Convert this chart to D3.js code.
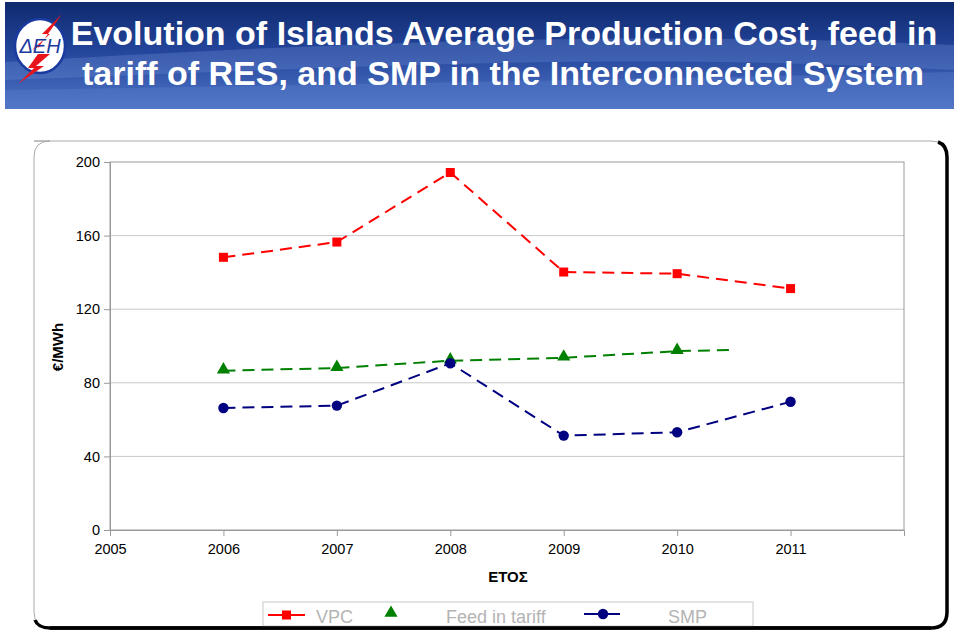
<!DOCTYPE html>
<html><head><meta charset="utf-8">
<script src="https://cdn.jsdelivr.net/npm/d3@7"></script>
<style>body{margin:0;background:#fff;}svg{display:block;}</style>
</head><body>
<script>
const years = [2006, 2007, 2008, 2009, 2010, 2011];
const vpc = [148.2, 156.5, 194.3, 140.2, 139.3, 131.2];
const feedYears = [2006, 2007, 2008, 2009, 2010];
const feed = [86.6, 88.0, 92.0, 93.6, 97.2];
const feedTail = {year: 2010.5, value: 97.9};
const smpVals = [66.3, 67.6, 90.6, 51.3, 53.1, 69.7];
const xTicks = [2005, 2006, 2007, 2008, 2009, 2010, 2011];
const yTicks = [0, 40, 80, 120, 160, 200];
const titleLines = ["Evolution of Islands Average Production Cost, feed in", "tariff of RES, and SMP in the Interconnected System"];
const legendItems = ["VPC", "Feed in tariff", "SMP"];

const W = 959, H = 634;
const svg = d3.select("body").append("svg").attr("width", W).attr("height", H);
const defs = svg.append("defs");
const bg = defs.append("linearGradient").attr("id","bann").attr("x1",0).attr("y1",0).attr("x2",0).attr("y2",1);
bg.append("stop").attr("offset","0").attr("stop-color","#0f2a6e");
bg.append("stop").attr("offset","0.45").attr("stop-color","#23449a");
bg.append("stop").attr("offset","1").attr("stop-color","#4e74c6");

// Banner
svg.append("rect").attr("x",5).attr("y",2).attr("width",949).attr("height",107).attr("fill","url(#bann)");
svg.append("path").attr("d","M5,62 C250,48 600,28 954,45 L954,70 C600,50 300,70 5,80 Z").attr("fill","#6a8ad2").attr("opacity",0.35);
svg.append("path").attr("d","M5,90 C300,85 600,80 954,72 L954,109 L5,109 Z").attr("fill","#5a7ecb").attr("opacity",0.4);

// Logo
const logo = svg.append("g").attr("transform","translate(40,46)");
logo.append("ellipse").attr("rx",25).attr("ry",27).attr("fill","#fff").attr("stroke","#1a3aa0").attr("stroke-width",2.5);
logo.append("path").attr("d","M22,-32 L2,-12 L10,-12 L-8,4 L4,-2 L-2,2 Z").attr("fill","#e8141c");
logo.append("path").attr("d","M-2,8 L10,8 L-4,20 L4,20 L-22,38 L-6,22 L-12,22 Z").attr("fill","#e8141c");
logo.append("text").attr("x",0).attr("y",7).attr("text-anchor","middle")
  .attr("font-family","Liberation Sans, Arial, sans-serif").attr("font-style","italic").attr("font-size",20)
  .attr("fill","#1a3aa0").text("ΔΕΗ");

svg.selectAll("text.title").data(titleLines).enter().append("text")
  .attr("x", (d,i)=> i===0 ? 504 : 503).attr("y",(d,i)=>45+i*40).attr("text-anchor","middle")
  .attr("font-family","Liberation Sans, Arial, sans-serif").attr("font-weight","bold").attr("font-size",34)
  .attr("fill","#fff").text(d=>d);

// Chart frame
svg.append("path").attr("d","M34,141 H931 Q947,141 947,157 V612 Q947,628 931,628 H50 Q34,628 34,612 V157 Q34,141 50,141 Z")
  .attr("fill","#fff").attr("stroke","#aaa").attr("stroke-width",1);
svg.append("path").attr("d","M938,142 Q947,145 947,157 V612 Q947,628 931,628 H50 Q38,628 35,620")
  .attr("fill","none").attr("stroke","#000").attr("stroke-width",3.5);

const x = d3.scaleLinear().domain([2005, 2012]).range([110, 904]);
const y = d3.scaleLinear().domain([0, 200]).range([530, 162]);

// gridlines
svg.append("g").selectAll("line").data(yTicks.filter(v=>v>0&&v<200)).enter().append("line")
  .attr("x1",110).attr("x2",904).attr("y1",d=>y(d)).attr("y2",d=>y(d)).attr("stroke","#c8c8c8").attr("stroke-width",1);
svg.append("rect").attr("x",110).attr("y",y(200)).attr("width",794).attr("height",y(0)-y(200))
  .attr("fill","none").attr("stroke","#9a9a9a").attr("stroke-width",1);

const yAxis = svg.append("g").attr("transform","translate(110,0)")
  .call(d3.axisLeft(y).tickValues(yTicks).tickSize(6).tickPadding(4));
const xAxis = svg.append("g").attr("transform","translate(0,530)")
  .call(d3.axisBottom(x).tickValues(xTicks).tickFormat(d3.format("d")).tickSize(6).tickPadding(8));
[yAxis, xAxis].forEach(a=>{
  a.select(".domain").attr("stroke","#9a9a9a");
  a.selectAll(".tick line").attr("stroke","#9a9a9a");
  a.selectAll("text").attr("font-family","Liberation Sans, Arial, sans-serif").attr("font-size",14.5).attr("fill","#000");
});

svg.append("text").attr("transform","translate(63,347) rotate(-90)").attr("text-anchor","middle")
  .attr("font-family","Liberation Sans, Arial, sans-serif").attr("font-weight","bold").attr("font-size",15).text("€/MWh");
svg.append("text").attr("x",508).attr("y",582).attr("text-anchor","middle")
  .attr("font-family","Liberation Sans, Arial, sans-serif").attr("font-weight","bold").attr("font-size",15).text("ΕΤΟΣ");

const line = d3.line().x(d=>x(d[0])).y(d=>y(d[1]));
const vpcPts = years.map((yr,i)=>[yr, vpc[i]]);
const feedPts = feedYears.map((yr,i)=>[yr, feed[i]]);
const smpPts = years.map((yr,i)=>[yr, smpVals[i]]);

svg.append("path").datum(vpcPts).attr("d",line).attr("fill","none").attr("stroke","#ff0000").attr("stroke-width",2).attr("stroke-dasharray","12,7");
svg.append("path").datum(feedPts.concat([[feedTail.year, feedTail.value]])).attr("d",line).attr("fill","none").attr("stroke","#008000").attr("stroke-width",2).attr("stroke-dasharray","12,7");
svg.append("path").datum(smpPts).attr("d",line).attr("fill","none").attr("stroke","#000080").attr("stroke-width",2).attr("stroke-dasharray","12,7");

svg.append("g").selectAll("rect").data(vpcPts).enter().append("rect")
  .attr("x",d=>x(d[0])-4.5).attr("y",d=>y(d[1])-4.5).attr("width",9).attr("height",9).attr("fill","#ff0000");
const tri = d3.symbol().type(d3.symbolTriangle).size(75);
svg.append("g").selectAll("path").data(feedPts).enter().append("path")
  .attr("d",tri).attr("transform",d=>`translate(${x(d[0])},${y(d[1])-1})`).attr("fill","#008000");
svg.append("g").selectAll("circle").data(smpPts).enter().append("circle")
  .attr("cx",d=>x(d[0])).attr("cy",d=>y(d[1])).attr("r",5.2).attr("fill","#000080");

// Legend
const lg = svg.append("g");
lg.append("rect").attr("x",263).attr("y",602).attr("width",490).attr("height",24).attr("fill","#fff").attr("stroke","#c8c8c8");
lg.append("line").attr("x1",268).attr("x2",305).attr("y1",615).attr("y2",615).attr("stroke","#ff0000").attr("stroke-width",2);
lg.append("rect").attr("x",282).attr("y",610.5).attr("width",9).attr("height",9).attr("fill","#ff0000");
lg.append("path").attr("d",tri).attr("transform","translate(391,613)").attr("fill","#008000");
lg.append("line").attr("x1",584).attr("x2",620).attr("y1",614).attr("y2",614).attr("stroke","#000080").attr("stroke-width",2);
lg.append("circle").attr("cx",603).attr("cy",614).attr("r",5.2).attr("fill","#000080");
const lx = [316, 446, 668];
lg.selectAll("text").data(legendItems).enter().append("text")
  .attr("x",(d,i)=>lx[i]).attr("y",623).attr("font-family","Liberation Sans, Arial, sans-serif").attr("font-size",18)
  .attr("fill","#b4b4b4").text(d=>d);
// bottom shadow over legend
svg.append("line").attr("x1",50).attr("x2",931).attr("y1",628).attr("y2",628).attr("stroke","#000").attr("stroke-width",3.5);
</script>
</body></html>
